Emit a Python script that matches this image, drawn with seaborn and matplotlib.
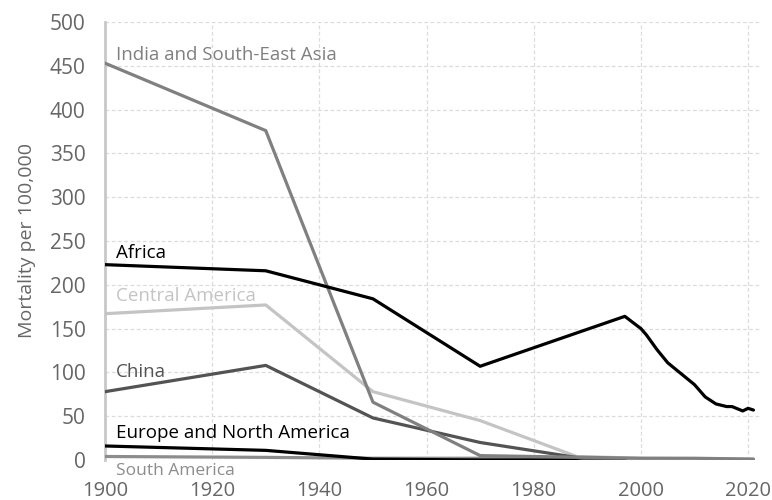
import matplotlib
matplotlib.use("Agg")
import matplotlib.pyplot as plt
import seaborn as sns
import pandas as pd

# ---------- DATA ----------
REGIONS = ["South America", "Europe and North America", "Central America",
           "China", "India and South-East Asia", "Africa"]

india_years = [1900, 1930, 1950, 1970, 1990, 2000, 2010, 2021]
india_vals = [453, 376, 66, 5, 3, 2, 2, 1]

africa_years = [1900, 1930, 1950, 1970, 1997, 2000, 2001, 2003, 2005, 2007,
                2009, 2010, 2012, 2014, 2016, 2017, 2019, 2020, 2021]
africa_vals = [223, 216, 184, 107, 164, 150, 143, 126, 111, 101,
               91, 86, 72, 64, 61, 61, 56, 59, 57]

central_years = [1900, 1930, 1950, 1970, 1988, 2000, 2021]
central_vals = [167, 177, 78, 45, 4, 2, 1]

china_years = [1900, 1930, 1950, 1970, 1990, 1997]
china_vals = [78, 108, 48, 20, 1, 0]

europe_years = [1900, 1930, 1950, 1970, 1997]
europe_vals = [16, 11, 1, 0, 0]

south_years = [1900, 1930, 1950, 1970, 1990, 2021]
south_vals = [4, 3, 2, 2, 1, 0.5]

COLORS = {
    "India and South-East Asia": "#808080",
    "Africa": "#000000",
    "Central America": "#c4c4c4",
    "China": "#535353",
    "Europe and North America": "#000000",
    "South America": "#8c8c8c",
}

# label positions (year, value)
LABELS = {
    "India and South-East Asia": (1902, 462),
    "Africa": (1902, 236),
    "Central America": (1902, 187),
    "China": (1902, 100),
    "Europe and North America": (1902, 31),
    "South America": (1902, -13),
}


def build_df():
    parts = [
        ("India and South-East Asia", india_years, india_vals),
        ("Africa", africa_years, africa_vals),
        ("Central America", central_years, central_vals),
        ("China", china_years, china_vals),
        ("Europe and North America", europe_years, europe_vals),
        ("South America", south_years, south_vals),
    ]
    rows = []
    for name, ys, vs in parts:
        for y, v in zip(ys, vs):
            rows.append({"region": name, "year": y, "mortality": v})
    return pd.DataFrame(rows)


def main():
    df = build_df()
    sns.set_theme(style="white")
    plt.rcParams["font.family"] = ["Open Sans", "DejaVu Sans"]

    fig = plt.figure(figsize=(7.72, 5), dpi=100)
    ax = fig.add_axes([0.136, 0.08, 0.849, 0.876])

    for name in REGIONS:
        sub = df[df["region"] == name]
        sns.lineplot(data=sub, x="year", y="mortality", color=COLORS[name],
                     linewidth=2.3, ax=ax, legend=False, zorder=3)

    for name, (x, y) in LABELS.items():
        size = 12.5 if name == "South America" else 13.5
        ax.text(x, y, name, color=COLORS[name], fontsize=size, va="center",
                ha="left", clip_on=False, zorder=4)

    ax.set_xlim(1900, 2022.3)
    ax.set_ylim(0, 500)
    ax.set_xticks(range(1900, 2021, 20))
    ax.set_yticks(range(0, 501, 50))
    ax.grid(True, color="#dcdcdc", linestyle=(0, (3, 2)), linewidth=0.9)
    ax.set_axisbelow(True)
    for s in ["top", "right", "bottom"]:
        ax.spines[s].set_visible(False)
    ax.spines["left"].set_color("#c8c8c8")
    ax.spines["left"].set_linewidth(2)
    ax.tick_params(axis="both", length=0, labelsize=15, labelcolor="#666666")
    ax.tick_params(axis="x", labelsize=14.5, pad=15)
    ax.tick_params(axis="y", pad=14)
    ax.set_xlabel("")
    ax.set_ylabel("Mortality per 100,000", fontsize=14, color="#666666", labelpad=10)

    fig.savefig("out.png", dpi=100)
    plt.close(fig)


if __name__ == "__main__":
    main()
